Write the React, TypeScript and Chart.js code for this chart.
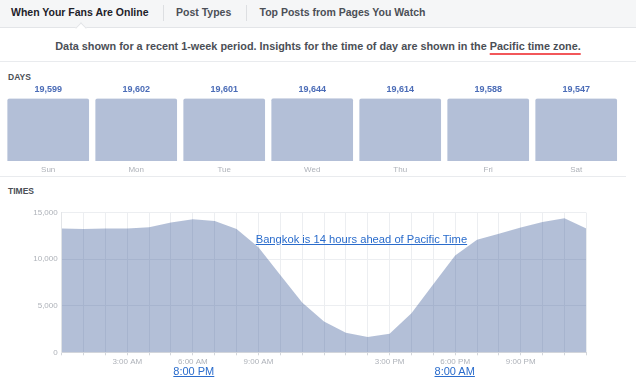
import React, { useEffect, useRef } from "react";
import { Chart, registerables } from "chart.js";

Chart.register(...registerables);

const dayLabels = ["Sun", "Mon", "Tue", "Wed", "Thu", "Fri", "Sat"];
const dayValues = [19599, 19602, 19601, 19644, 19614, 19588, 19547];

const hourLabels = [
  "12:00 AM", "1:00 AM", "2:00 AM", "3:00 AM", "4:00 AM", "5:00 AM", "6:00 AM",
  "7:00 AM", "8:00 AM", "9:00 AM", "10:00 AM", "11:00 AM", "12:00 PM",
  "1:00 PM", "2:00 PM", "3:00 PM", "4:00 PM", "5:00 PM", "6:00 PM",
  "7:00 PM", "8:00 PM", "9:00 PM", "10:00 PM", "11:00 PM", "12:00 AM",
];
const hourValues = [
  13300, 13250, 13300, 13300, 13450, 13950, 14300, 14100, 13250, 11300,
  8300, 5350, 3300, 2100, 1650, 2000, 4200, 7300, 10400, 12100,
  12750, 13400, 14000, 14400, 13300,
];
const shownHourTicks = [3, 6, 9, 15, 18, 21];
const yMax = 15000;
const yStep = 5000;

const FONT = "'Liberation Sans', Arial, Helvetica, sans-serif";
const FILL = "rgba(59, 89, 152, 0.39)";
const TICK_COLOR = "#aeb2b9";
const GRID_COLOR = "#eceef1";
const LINK = "#2a6ccc";

export default function App() {
  const daysRef = useRef<HTMLCanvasElement | null>(null);
  const timesRef = useRef<HTMLCanvasElement | null>(null);

  useEffect(() => {
    const valuePlugin = {
      id: "dayValues",
      afterDatasetsDraw(chart: any) {
        const ctx = chart.ctx;
        const meta = chart.getDatasetMeta(0);
        ctx.save();
        ctx.font = `bold 9px ${FONT}`;
        ctx.fillStyle = "#4b6cb7";
        ctx.textAlign = "center";
        ctx.textBaseline = "middle";
        meta.data.forEach((bar: any, i: number) => {
          ctx.fillText(dayValues[i].toLocaleString("en-US"), bar.x, bar.y - 9);
        });
        ctx.restore();
      },
    };

    const days = new Chart(daysRef.current as HTMLCanvasElement, {
      type: "bar",
      data: {
        labels: dayLabels,
        datasets: [
          {
            data: dayValues,
            backgroundColor: FILL,
            borderRadius: 2,
            borderSkipped: "bottom",
            barPercentage: 0.928,
            categoryPercentage: 1,
          },
        ],
      },
      options: {
        animation: false,
        responsive: false,
        maintainAspectRatio: false,
        layout: { padding: { top: 18.3, left: 4.2, right: 15.8, bottom: 0 } },
        plugins: { legend: { display: false }, tooltip: { enabled: false } },
        scales: {
          x: {
            grid: { display: false, drawTicks: false },
            border: { display: false },
            ticks: { font: { size: 8, family: FONT }, color: TICK_COLOR, padding: 4 },
            afterFit: (s: any) => {
              s.height = 19;
            },
          },
          y: { display: false, min: 0, max: Math.max(...dayValues) },
        },
      },
      plugins: [valuePlugin],
    } as any);

    const times = new Chart(timesRef.current as HTMLCanvasElement, {
      type: "line",
      data: {
        labels: hourLabels,
        datasets: [
          {
            data: hourValues,
            fill: "origin",
            backgroundColor: FILL,
            borderColor: "rgba(0,0,0,0)",
            borderWidth: 0,
            pointRadius: 0,
            tension: 0,
          },
        ],
      },
      options: {
        animation: false,
        responsive: false,
        maintainAspectRatio: false,
        layout: { padding: { top: 12.7, right: 49.7, left: 0, bottom: 0 } },
        plugins: { legend: { display: false }, tooltip: { enabled: false } },
        scales: {
          x: {
            grid: { color: GRID_COLOR, tickLength: 3, tickColor: "#d3d6db" },
            border: { color: "#d3d6db" },
            ticks: {
              autoSkip: false,
              maxRotation: 0,
              font: { size: 8, family: FONT },
              color: TICK_COLOR,
              padding: 2,
              callback: (_v: any, i: number) =>
                shownHourTicks.includes(i) ? hourLabels[i] : "",
            },
            afterFit: (s: any) => {
              s.height = 17.7;
            },
          },
          y: {
            min: 0,
            max: yMax,
            ticks: {
              stepSize: yStep,
              font: { size: 8, family: FONT },
              color: TICK_COLOR,
              padding: 4,
            },
            grid: { color: GRID_COLOR, drawTicks: false },
            border: { color: "#e3e5e8" },
            afterFit: (s: any) => {
              s.width = 61.7;
            },
          },
        },
      },
    } as any);

    return () => {
      days.destroy();
      times.destroy();
    };
  }, []);

  const abs = (o: React.CSSProperties): React.CSSProperties => ({ position: "absolute", ...o });

  return (
    <div
      style={abs({
        left: 0,
        top: 0,
        width: 636,
        height: 386,
        background: "#fff",
        overflow: "hidden",
        fontFamily: FONT,
      })}
    >
      {/* tab bar */}
      <div
        style={abs({
          left: 0,
          top: 0,
          width: 636,
          height: 27,
          background: "#f5f6f7",
          borderBottom: "1px solid #e3e5e8",
        })}
      />
      <div
        style={abs({
          left: 76.5,
          top: 23.5,
          width: 7,
          height: 7,
          background: "#fff",
          borderLeft: "1px solid #e3e5e8",
          borderTop: "1px solid #e3e5e8",
          transform: "rotate(45deg)",
        })}
      />
      <div style={abs({ left: 11, top: 6, fontSize: 10.5, fontWeight: "bold", color: "#1d2129", lineHeight: "13px", whiteSpace: "nowrap" })}>
        When Your Fans Are Online
      </div>
      <div style={abs({ left: 163, top: 5, width: 1, height: 16, background: "#dddfe2" })} />
      <div style={abs({ left: 176, top: 6, fontSize: 10.5, fontWeight: "bold", color: "#4b4f56", lineHeight: "13px", whiteSpace: "nowrap" })}>
        Post Types
      </div>
      <div style={abs({ left: 246, top: 5, width: 1, height: 16, background: "#dddfe2" })} />
      <div style={abs({ left: 259.5, top: 6, fontSize: 10.5, fontWeight: "bold", color: "#4b4f56", lineHeight: "13px", whiteSpace: "nowrap" })}>
        Top Posts from Pages You Watch
      </div>

      {/* info line */}
      <div
        style={abs({
          left: 0,
          top: 39,
          width: 636,
          textAlign: "center",
          fontSize: 10.85,
          fontWeight: "bold",
          color: "#4b4f56",
          lineHeight: "14px",
          whiteSpace: "nowrap",
        })}
      >
        Data shown for a recent 1-week period. Insights for the time of day are shown in the{" "}
        <span
          style={{
            textDecoration: "underline",
            textDecorationColor: "#f2575a",
            textDecorationThickness: "2px",
            textUnderlineOffset: "3px",
          }}
        >
          Pacific time zone.
        </span>
      </div>
      <div style={abs({ left: 0, top: 61, width: 636, height: 1, background: "#e9ebee" })} />

      {/* days */}
      <div style={abs({ left: 8, top: 72, fontSize: 8.5, fontWeight: "bold", color: "#4b4f56", lineHeight: "11px" })}>DAYS</div>
      <canvas ref={daysRef} width={636} height={100} style={abs({ left: 0, top: 80, width: 636, height: 100 })} />
      <div style={abs({ left: 0, top: 176, width: 626, height: 1, background: "#e9ebee" })} />

      {/* times */}
      <div style={abs({ left: 8, top: 186, fontSize: 8.5, fontWeight: "bold", color: "#4b4f56", lineHeight: "11px" })}>TIMES</div>
      <canvas ref={timesRef} width={636} height={170} style={abs({ left: 0, top: 200, width: 636, height: 170 })} />

      <div
        style={abs({
          left: 255.7,
          top: 232.5,
          fontSize: 11.2,
          lineHeight: "13px",
          color: LINK,
          textDecoration: "underline",
          whiteSpace: "nowrap",
        })}
      >
        Bangkok is 14 hours ahead of Pacific Time
      </div>
      <div
        style={abs({
          left: 193.8,
          top: 365,
          transform: "translateX(-50%)",
          fontSize: 11,
          lineHeight: "13px",
          color: LINK,
          textDecoration: "underline",
          whiteSpace: "nowrap",
        })}
      >
        8:00 PM
      </div>
      <div
        style={abs({
          left: 454.7,
          top: 365,
          transform: "translateX(-50%)",
          fontSize: 11,
          lineHeight: "13px",
          color: LINK,
          textDecoration: "underline",
          whiteSpace: "nowrap",
        })}
      >
        8:00 AM
      </div>
    </div>
  );
}
